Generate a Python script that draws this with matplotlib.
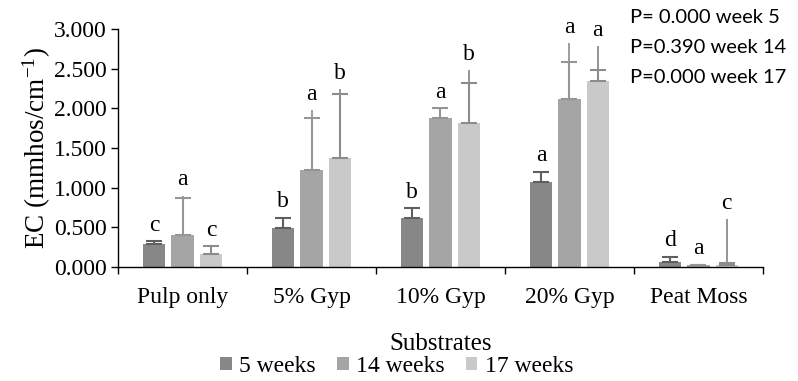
import matplotlib.pyplot as plt
import numpy as np

plt.rcParams['font.family'] = ['Liberation Serif', 'DejaVu Serif']
plt.rcParams['mathtext.fontset'] = 'custom'
plt.rcParams['mathtext.rm'] = 'Liberation Serif'
plt.rcParams['mathtext.it'] = 'Liberation Serif:italic'

# EC by substrate and sampling week
substrates = ['Pulp only', '5% Gyp', '10% Gyp', '20% Gyp', 'Peat Moss']
weeks = ['5 weeks', '14 weeks', '17 weeks']

ec_5 = [0.29, 0.49, 0.62, 1.07, 0.06]
ec_14 = [0.40, 1.22, 1.88, 2.12, 0.02]
ec_17 = [0.16, 1.37, 1.81, 2.34, 0.03]

# upper end of each error bar (cap) and the end of its whisker line
cap_5 = [0.33, 0.62, 0.74, 1.20, 0.13]
cap_14 = [0.87, 1.88, 2.00, 2.58, 0.03]
cap_17 = [0.26, 2.18, 2.32, 2.48, 0.05]
tip_5 = [0.33, 0.62, 0.74, 1.20, 0.13]
tip_14 = [0.90, 1.98, 2.00, 2.82, 0.03]
tip_17 = [0.26, 2.24, 2.48, 2.78, 0.60]

letters_5 = ['c', 'b', 'b', 'a', 'd']
letters_14 = ['a', 'a', 'a', 'a', 'a']
letters_17 = ['c', 'b', 'b', 'a', 'c']

p_notes = ['P= 0.000 week 5', 'P=0.390 week 14', 'P=0.000 week 17']

bar_colors = ['#878787', '#a5a5a5', '#c9c9c9']
err_colors = ['#5f5f5f', '#959595', '#8c8c8c']

fig = plt.figure(figsize=(7.98, 3.81), dpi=100)
ax = fig.add_axes([0.148, 0.299, 0.808, 0.625])

x = np.arange(len(substrates)) + 0.5
width = 0.173
offsets = [-0.22, 0.0, 0.22]
series = [(ec_5, cap_5, tip_5, letters_5),
          (ec_14, cap_14, tip_14, letters_14),
          (ec_17, cap_17, tip_17, letters_17)]

for k, (vals, caps, tips, lets) in enumerate(series):
    xs = x + offsets[k]
    vals = np.array(vals)
    caps = np.array(caps)
    tips = np.array(tips)
    ax.bar(xs, vals, width, color=bar_colors[k], label=weeks[k], zorder=2)
    ax.errorbar(xs, vals, yerr=[np.zeros_like(vals), caps - vals], fmt='none',
                ecolor=err_colors[k], elinewidth=1.5, capsize=6, capthick=1.5,
                zorder=3)
    ax.vlines(xs, caps, tips, color=err_colors[k], lw=1.3, zorder=3)
    for xi, t, lab in zip(xs, tips, lets):
        ax.text(xi, t + 0.2, lab, ha='center', va='center', fontsize=17)

ax.set_xlim(0, 5)
ax.set_ylim(0, 3.0)
ticks = np.arange(0, 3.01, 0.5)
ax.set_yticks(ticks)
ax.set_yticklabels(['%.3f' % v for v in ticks], fontsize=17)
ax.set_xticks(np.arange(0, 6))
ax.set_xticklabels([])
ax.set_xticks(x, minor=True)
ax.set_xticklabels(substrates, minor=True, fontsize=17)
ax.tick_params(axis='x', which='minor', length=0, pad=14)
ax.tick_params(axis='x', which='major', length=5, width=1, direction='out')
ax.tick_params(axis='y', length=5, width=1, direction='out', pad=3)
for side in ['top', 'right']:
    ax.spines[side].set_visible(False)
for side in ['left', 'bottom']:
    ax.spines[side].set_linewidth(1)

ax.set_ylabel('EC (mmhos/cm$^{-1}$)', fontsize=19.5, labelpad=1)
ax.set_xlabel('Substrates', fontsize=18, labelpad=18)

fig.legend(loc='lower center', bbox_to_anchor=(0.497, -0.045), ncol=3,
           frameon=False, fontsize=17, handlelength=0.5, handleheight=0.5,
           handletextpad=0.3, columnspacing=0.9)

for i, note in enumerate(p_notes):
    fig.text(0.789, 0.955 - i * 0.079, note, fontsize=14.5, family='Lato',
             va='center', ha='left')

fig.savefig('out.png', dpi=100)
